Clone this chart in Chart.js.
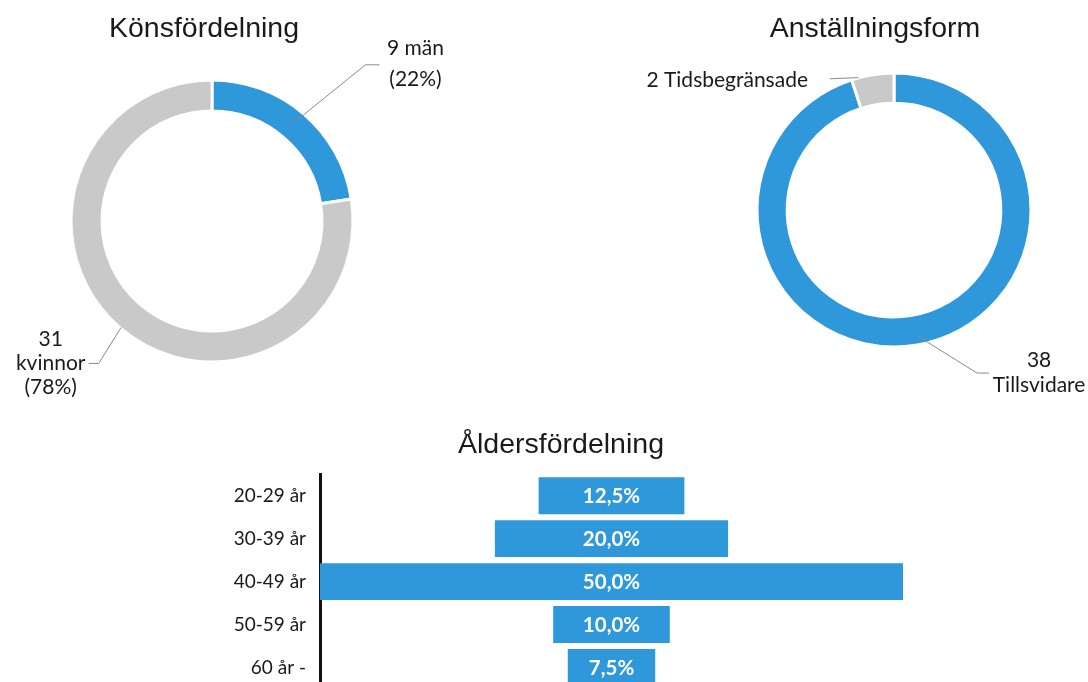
<!DOCTYPE html>
<html lang="sv">
<head>
<meta charset="utf-8">
<title>Personalstatistik</title>
<script src="https://cdn.jsdelivr.net/npm/chart.js@4"></script>
<style>
  html, body { margin: 0; padding: 0; background: #fff; width: 1088px; height: 682px; overflow: hidden; }
  canvas { position: absolute; }
  #kon { left: 0; top: 0; }
  #anst { left: 620px; top: 0; }
  #alder { left: 219px; top: 420px; }
</style>
</head>
<body>
<canvas id="kon" width="480" height="400"></canvas>
<canvas id="anst" width="468" height="410"></canvas>
<canvas id="alder" width="703" height="270"></canvas>
<script>
// Könsfördelning
var genderNames = ['män', 'kvinnor'];
var genderCounts = [9, 31];

// Anställningsform
var contractNames = ['Tillsvidare', 'Tidsbegränsade'];
var contractCounts = [38, 2];

// Åldersfördelning (procent)
var ageGroups = ['20-29 år', '30-39 år', '40-49 år', '50-59 år', '60 år -'];
var agePercent = [12.5, 20.0, 50.0, 10.0, 7.5];

var BLUE = '#2e98db';
var GREY = '#c9c9c9';
var TEXT = '#1a1a1a';
var LABEL_FONT = '21px Lato';
var TITLE_FONT = '28.5px "Liberation Sans"';

// andel i hela procent, x,5 avrundas till jämnt tal
function pct(values, i) {
	var total = values.reduce(function (a, b) { return a + b; }, 0);
	var x = values[i] / total * 100;
	var f = Math.floor(x);
	if (Math.abs(x - f - 0.5) < 1e-9) {
		return f % 2 === 0 ? f : f + 1;
	}
	return Math.round(x);
}

// rubrik + etiketter med hänvisningslinjer för ringdiagrammen
var leaderLabels = {
	id: 'leaderLabels',
	afterDraw: function (chart, args, opts) {
		var ctx = chart.ctx;
		var arcs = chart.getDatasetMeta(0).data;
		ctx.save();
		ctx.fillStyle = TEXT;
		ctx.font = TITLE_FONT;
		ctx.textAlign = 'center';
		ctx.textBaseline = 'middle';
		ctx.fillText(opts.title, opts.titleX, opts.titleY);

		opts.items.forEach(function (it) {
			var arc = arcs[it.index];
			var mid = (arc.startAngle + arc.endAngle) / 2;
			var a0 = mid + it.startTurn * Math.PI / 180;
			var a1 = mid + it.elbowTurn * Math.PI / 180;
			var x0 = arc.x + it.startR * Math.cos(a0);
			var y0 = arc.y + it.startR * Math.sin(a0);
			var x1 = arc.x + it.elbowR * Math.cos(a1);
			var y1 = arc.y + it.elbowR * Math.sin(a1);
			var x2 = x1 + it.tail;

			ctx.strokeStyle = '#8a8a8a';
			ctx.lineWidth = 1;
			ctx.beginPath();
			ctx.moveTo(x0, y0);
			ctx.lineTo(x1, y1);
			ctx.lineTo(x2, y1);
			ctx.stroke();

			ctx.font = LABEL_FONT;
			ctx.textAlign = it.align;
			it.lines().forEach(function (txt, k) {
				ctx.fillText(txt, x2 + it.dx, y1 + it.dy[k]);
			});
		});
		ctx.restore();
	}
};

// procentsatser mitt i staplarna
var barValues = {
	id: 'barValues',
	afterDatasetsDraw: function (chart) {
		var ctx = chart.ctx;
		var meta = chart.getDatasetMeta(1);
		ctx.save();
		ctx.fillStyle = '#fff';
		ctx.font = 'bold 20.5px Lato';
		ctx.textAlign = 'center';
		ctx.textBaseline = 'middle';
		meta.data.forEach(function (bar, i) {
			var txt = agePercent[i].toFixed(1).replace('.', ',') + '%';
			ctx.fillText(txt, (bar.x + bar.base) / 2, bar.y + 1);
		});
		ctx.restore();
	}
};

function doughnutConfig(names, counts, padding, labelOpts) {
	return {
		type: 'doughnut',
		data: {
			labels: names,
			datasets: [{
				data: counts,
				backgroundColor: [BLUE, GREY],
				borderColor: '#fff',
				borderWidth: 3
			}]
		},
		options: {
			responsive: false,
			animation: false,
			cutout: '78%',
			layout: { padding: padding },
			plugins: {
				legend: { display: false },
				tooltip: { enabled: false },
				leaderLabels: labelOpts
			}
		},
		plugins: [leaderLabels]
	};
}

new Chart(document.getElementById('kon'), doughnutConfig(genderNames, genderCounts,
	{ left: 69.5, top: 78.5, right: 125.5, bottom: 36.5 },
	{
		title: 'Könsfördelning', titleX: 204, titleY: 29,
		items: [
			{ index: 0, startR: 125, startTurn: -1, elbowR: 219, elbowTurn: 4, tail: 14,
			  align: 'center', dx: 36, dy: [-17, 14],
			  lines: function () { return [genderCounts[0] + ' ' + genderNames[0], '(' + pct(genderCounts, 0) + '%)']; } },
			{ index: 1, startR: 140, startTurn: 0, elbowR: 182, elbowTurn: -2, tail: -10,
			  align: 'center', dx: -38, dy: [-24, 0, 24],
			  lines: function () { return [String(genderCounts[1]), genderNames[1], '(' + pct(genderCounts, 1) + '%)']; } }
		]
	}));

new Chart(document.getElementById('anst'), doughnutConfig(contractNames, contractCounts,
	{ left: 135.5, top: 71.5, right: 55.5, bottom: 61.5 },
	{
		title: 'Anställningsform', titleX: 255, titleY: 29,
		items: [
			{ index: 1, startR: 137, startTurn: -6, elbowR: 146, elbowTurn: -17, tail: 0,
			  align: 'right', dx: -22, dy: [1],
			  lines: function () { return [contractCounts[1] + ' ' + contractNames[1]]; } },
			{ index: 0, startR: 127, startTurn: -1, elbowR: 183, elbowTurn: -18, tail: 12,
			  align: 'center', dx: 50, dy: [-13, 12],
			  lines: function () { return [String(contractCounts[0]), contractNames[0]]; } }
		]
	}));

new Chart(document.getElementById('alder'), {
	type: 'bar',
	data: {
		labels: ageGroups,
		datasets: [
			// osynlig förskjutning så att staplarna centreras
			{ data: agePercent.map(function (v) { return (50 - v) / 2; }), backgroundColor: 'rgba(0,0,0,0)' },
			{ data: agePercent, backgroundColor: BLUE }
		]
	},
	options: {
		indexAxis: 'y',
		responsive: false,
		animation: false,
		datasets: { bar: { barPercentage: 0.86, categoryPercentage: 1 } },
		layout: { padding: { right: 19, bottom: 1 } },
		scales: {
			x: { stacked: true, min: 0, max: 50, display: false },
			y: {
				stacked: true,
				grid: { display: false, drawTicks: false },
				border: { display: true, color: '#111', width: 3 },
				ticks: { font: { family: 'Lato', size: 19 }, color: TEXT, padding: 14 },
				afterFit: function (scale) {
					scale.width = 101;
					scale.paddingTop = 0;
					scale.paddingBottom = 0;
				}
			}
		},
		plugins: {
			legend: { display: false },
			tooltip: { enabled: false },
			title: {
				display: true,
				text: 'Åldersfördelning',
				color: TEXT,
				font: { family: 'Liberation Sans', size: 28.5, weight: 'normal' },
				padding: { top: 8, bottom: 12 }
			}
		}
	},
	plugins: [barValues]
});
</script>
</body>
</html>
